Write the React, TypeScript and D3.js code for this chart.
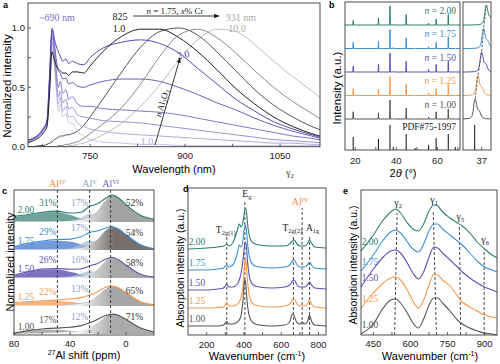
import React from 'react';
import * as d3 from 'd3';

const SANS = '"Liberation Sans", Arial, sans-serif';
const SERIF = '"Liberation Serif", "Times New Roman", serif';

// ---------- a: PL spectra ----------
const aWave = [650, 660, 670, 677, 682, 686, 690, 694, 697, 700, 703, 707, 712, 716, 722, 730, 740, 750, 770, 800, 830, 860, 890, 920, 950, 980, 1010, 1040, 1070, 1100, 1120];
// n Al2O3 = 2.0 ... 1.0
const aAl20 = [0.05, 0.07, 0.11, 0.16, 0.22, 0.6, 1.0, 0.9, 0.84, 0.8, 0.76, 0.72, 0.74, 0.7, 0.72, 0.7, 0.69, 0.75, 0.83, 0.88, 0.9, 0.87, 0.79, 0.66, 0.53, 0.4, 0.3, 0.21, 0.15, 0.1, 0.07];
const aAl18 = [0.05, 0.07, 0.11, 0.16, 0.22, 0.58, 0.98, 0.85, 0.72, 0.64, 0.62, 0.57, 0.58, 0.53, 0.54, 0.51, 0.5, 0.52, 0.55, 0.57, 0.57, 0.55, 0.5, 0.44, 0.37, 0.31, 0.24, 0.18, 0.13, 0.09, 0.06];
const aAl16 = [0.05, 0.07, 0.1, 0.15, 0.21, 0.55, 0.95, 0.8, 0.62, 0.5, 0.55, 0.45, 0.48, 0.4, 0.42, 0.36, 0.34, 0.34, 0.32, 0.31, 0.3, 0.29, 0.27, 0.24, 0.21, 0.18, 0.15, 0.12, 0.09, 0.07, 0.05];
const aAl14 = [0.05, 0.07, 0.1, 0.15, 0.2, 0.52, 0.92, 0.75, 0.55, 0.42, 0.47, 0.37, 0.4, 0.32, 0.33, 0.27, 0.25, 0.24, 0.22, 0.21, 0.2, 0.18, 0.16, 0.14, 0.12, 0.1, 0.08, 0.06, 0.05, 0.04, 0.03];
const aAl12 = [0.04, 0.06, 0.09, 0.14, 0.19, 0.5, 0.88, 0.7, 0.5, 0.36, 0.42, 0.3, 0.34, 0.25, 0.26, 0.2, 0.17, 0.15, 0.13, 0.11, 0.1, 0.09, 0.08, 0.07, 0.06, 0.05, 0.04, 0.03, 0.03, 0.02, 0.02];
const aAl10 = [0.04, 0.06, 0.09, 0.13, 0.18, 0.47, 0.84, 0.66, 0.45, 0.3, 0.36, 0.25, 0.28, 0.2, 0.2, 0.13, 0.09, 0.06, 0.04, 0.03, 0.02, 0.02, 0.01, 0.01, 0.01, 0.01, 0.01, 0.01, 0.01, 0.01, 0.01];
// n = 1.75, x% Cr = 1.0 ... 10.0
const aCr1 = [0.03, 0.05, 0.08, 0.12, 0.17, 0.45, 0.8, 0.72, 0.68, 0.65, 0.64, 0.62, 0.62, 0.6, 0.63, 0.63, 0.62, 0.68, 0.8, 0.93, 0.99, 0.99, 0.92, 0.8, 0.65, 0.49, 0.36, 0.25, 0.17, 0.11, 0.08];
const aCr2 = [0, 0, 0.01, 0.01, 0.02, 0.03, 0.04, 0.06, 0.07, 0.08, 0.09, 0.09, 0.1, 0.1, 0.11, 0.13, 0.18, 0.25, 0.4, 0.63, 0.84, 0.97, 1.0, 0.94, 0.8, 0.64, 0.48, 0.35, 0.25, 0.17, 0.13];
const aCr3 = [0, 0, 0, 0, 0, 0, 0, 0, 0, 0.01, 0.01, 0.01, 0.02, 0.02, 0.03, 0.04, 0.07, 0.11, 0.19, 0.33, 0.53, 0.76, 0.94, 0.99, 0.92, 0.79, 0.64, 0.5, 0.38, 0.28, 0.21];
const aCr4 = [0, 0, 0, 0, 0, 0, 0, 0, 0, 0, 0, 0, 0, 0.01, 0.01, 0.02, 0.03, 0.05, 0.1, 0.2, 0.34, 0.52, 0.73, 0.9, 0.99, 0.97, 0.86, 0.72, 0.59, 0.47, 0.39];
const aAlSeries = [aAl20, aAl18, aAl16, aAl14, aAl12, aAl10];
const aCrSeries = [aCr1, aCr2, aCr3, aCr4];
const aAlColors = ['#5549b0', '#6a60bb', '#8378c7', '#9c92d3', '#b3abde', '#cbc5ea'];
const aCrColors = ['#1e1e1e', '#555555', '#8a8a8a', '#bdbdbd'];
const aXTicks = [675, 750, 825, 900, 975, 1050];
const aXLabels = [750, 900, 1050];
const aYTicks = [0, 0.25, 0.5, 0.75, 1];
const aYLabels = [0, 0.5, 1];

// ---------- shared sample rows (top to bottom) ----------
const rowLabels = ['2.00', '1.75', '1.50', '1.25', '1.00'];
const rowColors = ['#2c7d70', '#3d8fd6', '#5a52b2', '#f59a50', '#555555'];

// ---------- b: XRD ----------
const bPeaks = [19.0, 31.3, 36.9, 38.5, 44.8, 49.1, 55.7, 59.4, 65.3, 68.7];
const bPdfRel = [52, 44, 100, 12, 64, 8, 20, 48, 64, 12];
const bRowRel = [
  [24, 37, 100, 3, 55, 0, 9, 31, 55, 0],
  [32, 38, 100, 5, 55, 0, 9, 33, 60, 0],
  [31, 40, 100, 3, 57, 0, 14, 40, 57, 0],
  [37, 32, 100, 3, 58, 0, 14, 37, 58, 0],
  [38, 33, 100, 2, 57, 0, 10, 38, 52, 0],
];
const bInsetCenter = [37.1, 37.04, 37.0, 36.92, 36.86];
const bPdfInset = 36.85;
const bProfileOff = [-0.35, -0.15, -0.09, -0.05, -0.025, 0, 0.025, 0.05, 0.07, 0.09, 0.12, 0.16, 0.22, 0.4];
const bProfileVal = [0, 0.02, 0.08, 0.3, 0.75, 1, 0.8, 0.5, 0.45, 0.42, 0.25, 0.08, 0.02, 0];
const bXTicks = [20, 30, 40, 50, 60, 70];
const bXLabels = [20, 40, 60];

// ---------- c: 27Al NMR ----------
const cPpm = [80, 70, 60, 50, 40, 32, 26, 20, 15, 10, 5, 0, -10, -20];
const cIV = [
  [0.17, 0.25, 0.33, 0.36, 0.25, 0.12, 0.06, 0.02, 0, 0, 0, 0, 0, 0],
  [0.1, 0.22, 0.3, 0.33, 0.3, 0.2, 0.1, 0.03, 0, 0, 0, 0, 0, 0],
  [0.08, 0.2, 0.3, 0.31, 0.22, 0.12, 0.05, 0.01, 0, 0, 0, 0, 0, 0],
  [0.1, 0.14, 0.17, 0.18, 0.15, 0.1, 0.05, 0.01, 0, 0, 0, 0, 0, 0],
  [0.02, 0.1, 0.15, 0.15, 0.12, 0.08, 0.04, 0.01, 0, 0, 0, 0, 0, 0],
];
const cV = [
  [0, 0, 0, 0, 0.03, 0.15, 0.3, 0.22, 0.08, 0.02, 0, 0, 0, 0],
  [0, 0, 0, 0.02, 0.06, 0.22, 0.34, 0.26, 0.1, 0.02, 0, 0, 0, 0],
  [0, 0, 0, 0.01, 0.06, 0.16, 0.24, 0.2, 0.08, 0.02, 0, 0, 0, 0],
  [0, 0, 0, 0.01, 0.06, 0.12, 0.16, 0.13, 0.06, 0.01, 0, 0, 0, 0],
  [0, 0, 0, 0.01, 0.04, 0.1, 0.14, 0.12, 0.05, 0.01, 0, 0, 0, 0],
];
const cVI = [
  [0.03, 0.02, 0.02, 0.03, 0.04, 0.08, 0.2, 0.42, 0.75, 0.94, 0.85, 0.62, 0.25, 0.1],
  [0.02, 0.02, 0.02, 0.02, 0.03, 0.06, 0.18, 0.4, 0.68, 0.82, 0.74, 0.55, 0.2, 0.05],
  [0.02, 0.02, 0.02, 0.02, 0.03, 0.05, 0.14, 0.32, 0.58, 0.72, 0.64, 0.46, 0.14, 0.03],
  [0.02, 0.02, 0.02, 0.02, 0.04, 0.08, 0.18, 0.38, 0.6, 0.7, 0.64, 0.48, 0.16, 0.04],
  [0.01, 0.02, 0.03, 0.05, 0.08, 0.12, 0.22, 0.4, 0.6, 0.7, 0.66, 0.52, 0.22, 0.07],
];
const cPctIV = ['31%', '29%', '26%', '22%', '17%'];
const cPctV = ['17%', '17%', '16%', '13%', '12%'];
const cPctVI = ['52%', '54%', '58%', '65%', '71%'];
const cSites = [49, 26, 11];
const cXTicks = [80, 60, 40, 20, 0];
const cXLabels = [80, 40, 0];
const cFill = ['#4f8c82', '#4e82cc', '#5b4fae', '#f5a160', '#9b9b9b'];
const cViTone = ['#9d9d9d', '#6f6764', '#a3a3a3', '#a0a0a0', '#a6a6a6'];

// ---------- d: Raman ----------
const dWn = [100, 200, 260, 290, 300, 308, 318, 340, 365, 375, 385, 395, 402, 407, 412, 420, 432, 450, 480, 550, 620, 645, 660, 670, 685, 700, 712, 725, 740, 752, 762, 780, 840];
const dRows = [
  [86, 87, 88, 89, 90, 91, 89, 92, 105, 111, 108, 113, 122, 126, 126, 110, 97, 92, 90, 89, 89, 91, 94, 95, 91, 89, 89, 89, 91, 95, 92, 88, 87],
  [65, 65, 66, 67, 69, 70, 68, 70, 82, 90, 88, 95, 106, 110, 107, 90, 76, 70, 68, 67, 68, 70, 74, 75, 70, 68, 68, 68, 70, 73, 70, 67, 66],
  [45, 45, 46, 47, 49, 51, 48, 48, 51, 55, 62, 75, 88, 93, 90, 72, 56, 50, 48, 47, 48, 50, 54, 55, 50, 48, 48, 48, 50, 53, 50, 47, 46],
  [27, 27, 27.5, 28, 30, 32, 29, 29, 31, 33, 38, 50, 68, 76, 72, 52, 37, 31, 29, 28, 29, 31, 35, 36, 31, 29, 29, 29, 31, 35, 31, 28, 27],
  [9, 9, 9, 10, 12, 13.5, 11, 11, 13, 15, 20, 35, 53, 55, 45, 28, 17, 12, 10, 9, 10, 13, 21, 19, 12, 11, 13, 11, 13, 20, 14, 10, 9],
];
const dModes = [308, 405, 665, 712, 752];
const dModeTop = [99, 135, 99, 127, 99];
const dXTicks = [200, 300, 400, 500, 600, 700, 800];
const dXLabels = [200, 400, 600, 800];

// ---------- e: IR ----------
const eWn = [400, 450, 490, 520, 540, 560, 585, 610, 632, 655, 675, 695, 710, 730, 760, 790, 810, 840, 870, 900, 930, 950];
const eRows = [
  [84, 100, 115, 123, 126, 122, 113, 106, 104, 112, 124, 130, 129, 123, 117, 112, 109, 102, 93, 86, 80, 77],
  [64, 80, 95, 103, 105, 102, 94, 86, 83, 92, 104, 111, 111, 106, 100, 94, 90, 82, 74, 68, 65, 63],
  [48, 66, 78, 84, 85, 82, 73, 62, 56, 64, 78, 88, 87, 82, 75, 68, 63, 57, 52, 48, 45, 43],
  [27, 42, 52, 57, 58, 55, 46, 34, 27, 36, 50, 61, 60, 55, 49, 39, 33, 28, 24, 20, 18, 17],
  [1, 11, 27, 35, 36, 32, 23, 12, 7, 17, 30, 37, 37, 32, 24, 15, 11, 7, 4, 2, 1, 0],
];
const eBands = ['2', '1', '5', '6'];
const eBandBottom = [536, 705, 803, 898];
const eBandTop = [546, 692, 798, 898];
const eBandTopVal = [122, 125, 108, 85];
const eXTicks = [450, 525, 600, 675, 750, 825, 900];
const eXLabels = [450, 600, 750, 900];

const AXIS = '#3a3a3a';

function BottomTicks({ scale, ticks, labels, y, labelY }: any) {
  return (
    <g>
      {ticks.map((t: number) => (
        <line key={t} x1={scale(t)} x2={scale(t)} y1={y} y2={y - 3} stroke={AXIS} strokeWidth={0.8} />
      ))}
      {labels.map((t: number) => (
        <text key={'l' + t} x={scale(t)} y={labelY} textAnchor="middle" fontSize={9.5} fill="#222">{t}</text>
      ))}
    </g>
  );
}

function PanelA() {
  const left = 28, right = 320, top = 3, bottom = 146.7;
  const x = d3.scaleLinear().domain([652, 1113]).range([left, right]);
  const y = d3.scaleLinear().domain([0, 1]).range([bottom, 28]);
  const line = d3.line<number>().x((_, i) => x(aWave[i])).y(d => y(d)).curve(d3.curveMonotoneX);
  return (
    <g>
      <defs>
        <clipPath id="clipA"><rect x={left} y={top} width={right - left} height={bottom - top} /></clipPath>
        <marker id="arrowA" viewBox="0 0 10 10" refX="9" refY="5" markerWidth="6" markerHeight="6" orient="auto">
          <path d="M0,1 L10,5 L0,9 z" fill="#222" />
        </marker>
      </defs>
      <g clipPath="url(#clipA)">
        {[3, 2, 1].map(i => (
          <path key={'cr' + i} d={line(aCrSeries[i]) || ''} fill="none" stroke={aCrColors[i]} strokeWidth={1} />
        ))}
        {[5, 4, 3, 2, 1, 0].map(i => (
          <path key={'al' + i} d={line(aAlSeries[i]) || ''} fill="none" stroke={aAlColors[i]} strokeWidth={1} />
        ))}
        <path d={line(aCrSeries[0]) || ''} fill="none" stroke={aCrColors[0]} strokeWidth={1} />
      </g>
      <rect x={left} y={top} width={right - left} height={bottom - top} fill="none" stroke={AXIS} strokeWidth={0.9} />
      <BottomTicks scale={x} ticks={aXTicks} labels={aXLabels} y={bottom} labelY={159} />
      {aYTicks.map(t => (
        <line key={t} x1={left} x2={left + 3} y1={y(t)} y2={y(t)} stroke={AXIS} strokeWidth={0.8} />
      ))}
      {aYLabels.map(t => (
        <text key={t} x={25} y={y(t) + 3.3} textAnchor="end" fontSize={9.5} fill="#222">{t.toFixed(1)}</text>
      ))}
      <text x={174} y={172.5} textAnchor="middle" fontSize={11}>Wavelength (nm)</text>
      <text transform="translate(10.5,86) rotate(-90)" textAnchor="middle" fontSize={11.5}>Normalized intensity</text>
      <text x={3} y={8} fontSize={9} fontWeight="bold">a</text>

      <g fontFamily={SERIF} fontSize={10}>
        <text x={57} y={20.5} textAnchor="middle" fill="#7a70c6">~690 nm</text>
        <text x={120} y={20} textAnchor="middle" fill="#222">825</text>
        <text x={119} y={31.5} textAnchor="middle" fill="#222">1.0</text>
        <line x1={133} x2={219} y1={16} y2={16} stroke="#222" strokeWidth={0.9} markerEnd="url(#arrowA)" />
        <text x={175} y={13.5} textAnchor="middle" fontSize={9} fill="#222">
          <tspan fontStyle="italic">n</tspan> = 1.75, <tspan fontStyle="italic">x</tspan>% Cr
        </text>
        <text x={241} y={20.5} textAnchor="middle" fill="#aaaaaa">931 nm</text>
        <text x={237} y={31.5} textAnchor="middle" fill="#aaaaaa">10.0</text>
        <text transform="translate(184,58) rotate(-14)" textAnchor="middle" fill="#5549b0">2.0</text>
        <text x={147} y={145} textAnchor="middle" fill="#b3abde">1.0</text>
        <line x1={155} y1={145} x2={180} y2={58} stroke="#222" strokeWidth={0.9} markerEnd="url(#arrowA)" />
        <text transform="translate(165,104) rotate(-74)" textAnchor="middle" fontSize={9} fill="#222">
          <tspan fontStyle="italic">n</tspan> Al<tspan fontSize={6.5} dy={2}>2</tspan><tspan dy={-2}>O</tspan><tspan fontSize={6.5} dy={2}>3</tspan>
        </text>
        <text x={290} y={176} textAnchor="middle" fontSize={9.5} fill="#333">γ<tspan fontSize={6.5} dy={2}>2</tspan></text>
      </g>
    </g>
  );
}

function PanelB() {
  const left = 345, right = 460, top = 2, bottom = 150;
  const ileft = 463, iright = 491;
  const x = d3.scaleLinear().domain([15, 71]).range([left, right]);
  const xi = d3.scaleLinear().domain([36.6, 37.2]).range([ileft, iright]);
  const hs = d3.scaleLinear().domain([0, 100]).range([0, 19]);
  const hp = d3.scaleLinear().domain([0, 100]).range([0, 25]);
  const hi = d3.scaleLinear().domain([0, 1]).range([0, 20]);
  return (
    <g>
      <defs>
        <clipPath id="clipB"><rect x={left} y={top} width={right - left} height={bottom - top} /></clipPath>
        <clipPath id="clipBi"><rect x={ileft} y={top} width={iright - ileft} height={bottom - top} /></clipPath>
      </defs>
      <g clipPath="url(#clipB)">
        {rowLabels.map((lab, r) => {
          const base = 25 + r * 23.5;
          const pts: [number, number][] = [[15, 0]];
          bPeaks.forEach((p, k) => {
            pts.push([p - 0.18, 0], [p, bRowRel[r][k]], [p + 0.18, 0]);
          });
          pts.push([71, 0]);
          const ln = d3.line<[number, number]>().x(d => x(d[0])).y(d => base - hs(d[1]));
          return <path key={lab} d={ln(pts) || ''} fill="none" stroke={rowColors[r]} strokeWidth={1} />;
        })}
        {bPeaks.map((p, k) => (
          <line key={p} x1={x(p)} x2={x(p)} y1={bottom} y2={bottom - hp(bPdfRel[k])} stroke="#222" strokeWidth={1.1} />
        ))}
      </g>
      <g clipPath="url(#clipBi)">
        {rowLabels.map((lab, r) => {
          const base = 25 + r * 23.5;
          const pts: [number, number][] = [[36.4, 0]];
          bProfileOff.forEach((o, k) => pts.push([bInsetCenter[r] + o, bProfileVal[k]]));
          pts.push([37.8, 0]);
          const ln = d3.line<[number, number]>().x(d => xi(d[0])).y(d => base - hi(d[1])).curve(d3.curveMonotoneX);
          return <path key={lab} d={ln(pts) || ''} fill="none" stroke={rowColors[r]} strokeWidth={1} />;
        })}
        <line x1={xi(bPdfInset)} x2={xi(bPdfInset)} y1={bottom} y2={bottom - hp(100)} stroke="#222" strokeWidth={1.1} />
        <path
          d={d3.line<number>().x(c => xi(c)).y((_, r) => 25 + r * 23.5 - hi(1))(bInsetCenter) || ''}
          fill="none" stroke="#555" strokeWidth={0.9} strokeDasharray="2.5,1.5"
        />
      </g>
      <rect x={left} y={top} width={right - left} height={bottom - top} fill="none" stroke={AXIS} strokeWidth={0.9} />
      <rect x={ileft} y={top} width={iright - ileft} height={bottom - top} fill="none" stroke={AXIS} strokeWidth={0.9} />
      <BottomTicks scale={x} ticks={bXTicks} labels={bXLabels} y={bottom} labelY={164} />
      <BottomTicks scale={xi} ticks={[37]} labels={[37]} y={bottom} labelY={164} />
      <g fontFamily={SERIF} fontSize={9.5}>
        {rowLabels.map((lab, r) => (
          <text key={lab} x={456} y={25 + r * 23.5 - 11.5} textAnchor="end" fill={rowColors[r]}>
            <tspan fontStyle="italic">n</tspan> = {lab}
          </text>
        ))}
        <text x={456} y={130} textAnchor="end" fill="#222">PDF#75-1997</text>
      </g>
      <text transform="translate(341,88) rotate(-90)" textAnchor="middle" fontSize={11.5}>Intensity (a.u.)</text>
      <text x={403} y={177} textAnchor="middle" fontSize={11}>2<tspan fontStyle="italic">θ</tspan> (°)</text>
      <text x={329} y={8} fontSize={9} fontWeight="bold">b</text>
    </g>
  );
}

function PanelC() {
  const left = 14, right = 154, top = 190, bottom = 335, unit = 28;
  const x = d3.scaleLinear().domain([80, -20]).range([left, right]);
  return (
    <g>
      <defs>
        <clipPath id="clipC"><rect x={left} y={top} width={right - left} height={bottom - top} /></clipPath>
        {rowLabels.map((_, i) => (
          <linearGradient key={i} id={'viGrad' + i} gradientUnits="userSpaceOnUse" x1={x(34)} x2={x(-12)} y1={0} y2={0}>
            <stop offset="0" stopColor="#f6f6f6" />
            <stop offset="0.55" stopColor={cViTone[i]} />
            <stop offset="1" stopColor={cViTone[i]} />
          </linearGradient>
        ))}
      </defs>
      <g clipPath="url(#clipC)">
        {rowLabels.map((lab, i) => {
          const base = 222 + i * 28;
          const area = d3.area<number>().x((_, k) => x(cPpm[k])).y0(base).y1(d => base - d * unit).curve(d3.curveMonotoneX);
          const line = d3.line<number>().x((_, k) => x(cPpm[k])).y(d => base - d * unit).curve(d3.curveMonotoneX);
          const total = cIV[i].map((v, k) => v + cV[i][k] + cVI[i][k]);
          return (
            <g key={lab}>
              <path d={area(cIV[i]) || ''} fill={cFill[i]} fillOpacity={0.8} />
              <path d={area(cV[i]) || ''} fill="#a9bfd8" fillOpacity={0.75} />
              <path d={area(cVI[i]) || ''} fill={'url(#viGrad' + i + ')'} fillOpacity={0.95} />
              <path d={line(total) || ''} fill="none" stroke={rowColors[i]} strokeWidth={1.1} />
            </g>
          );
        })}
      </g>
      {cSites.map(s => (
        <line key={s} x1={x(s)} x2={x(s)} y1={top} y2={bottom} stroke="#333" strokeWidth={0.9} strokeDasharray="3,2" />
      ))}
      <g fontFamily={SERIF} fontSize={9.5}>
        {rowLabels.map((lab, i) => {
          const base = 222 + i * 28;
          const total = cIV[i].map((v, k) => v + cV[i][k] + cVI[i][k]);
          return (
            <g key={lab}>
              <text x={26} y={base - total[0] * unit - 3} textAnchor="middle" fill={rowColors[i]}>{lab}</text>
              <text x={x(56)} y={base - total[3] * unit - 5} textAnchor="middle" fill={rowColors[i]}>{cPctIV[i]}</text>
              <text x={x(33)} y={base - total[5] * unit - 6} textAnchor="middle" fill="#8aa3c4">{cPctV[i]}</text>
              <text x={x(-6)} y={base - total[11] * unit + 1} textAnchor="middle" fill="#333">{cPctVI[i]}</text>
            </g>
          );
        })}
        <text x={x(cSites[0])} y={187} textAnchor="middle" fill="#f08c3c" fontSize={10}>Al<tspan fontSize={6.5} dy={-3.5}>IV</tspan></text>
        <text x={x(cSites[1])} y={187} textAnchor="middle" fill="#8aa3c4" fontSize={10}>Al<tspan fontSize={6.5} dy={-3.5}>V</tspan></text>
        <text x={x(cSites[2])} y={187} textAnchor="middle" fill="#6e61c0" fontSize={10}>Al<tspan fontSize={6.5} dy={-3.5}>VI</tspan></text>
      </g>
      <rect x={left} y={top} width={right - left} height={bottom - top} fill="none" stroke={AXIS} strokeWidth={0.9} />
      <BottomTicks scale={x} ticks={cXTicks} labels={cXLabels} y={bottom} labelY={346.5} />
      <text x={84} y={359} textAnchor="middle" fontSize={11}>
        <tspan fontSize={7} dy={-4}>27</tspan><tspan dy={4}>Al shift (ppm)</tspan>
      </text>
      <text transform="translate(13.5,262) rotate(-90)" textAnchor="middle" fontSize={11}>Normalized intensity</text>
      <text x={2} y={194} fontSize={9} fontWeight="bold">c</text>
    </g>
  );
}

function PanelD() {
  const left = 188, right = 326, top = 188, bottom = 335;
  const x = d3.scaleLinear().domain([100, 840]).range([left, right]);
  const y = d3.scaleLinear().domain([0, 150]).range([bottom, bottom - 150]);
  const line = d3.line<number>().x((_, k) => x(dWn[k])).y(d => y(d)).curve(d3.curveMonotoneX);
  const sub = (main: string, s: string) => (<>{main}<tspan fontSize={6.5} dy={2}>{s}</tspan></>);
  return (
    <g>
      {dModes.map((m, k) => (
        <line key={m} x1={x(m)} x2={x(m)} y1={bottom} y2={y(dModeTop[k])} stroke="#333" strokeWidth={0.9} strokeDasharray="3,2" />
      ))}
      {dRows.map((vals, i) => (
        <path key={i} d={line(vals) || ''} fill="none" stroke={rowColors[i]} strokeWidth={1.1} />
      ))}
      <rect x={left} y={top} width={right - left} height={bottom - top} fill="none" stroke={AXIS} strokeWidth={0.9} />
      <BottomTicks scale={x} ticks={dXTicks} labels={dXLabels} y={bottom} labelY={348} />
      <g fontFamily={SERIF} fontSize={9.5}>
        {rowLabels.map((lab, i) => (
          <text key={lab} x={197} y={y(dRows[i][0]) - 4} textAnchor="middle" fill={rowColors[i]}>{lab}</text>
        ))}
        <text x={x(308) - 1} y={233} textAnchor="middle" fill="#222">{sub('T', '2g(1)')}</text>
        <text x={x(405) + 2} y={197} textAnchor="middle" fill="#222">{sub('E', 'g')}</text>
        <text x={x(665) - 1} y={231} textAnchor="middle" fill="#222">{sub('T', '2g(2)')}</text>
        <text x={x(752) + 3} y={231} textAnchor="middle" fill="#222">{sub('A', '1g')}</text>
        <text x={x(712) - 2} y={205} textAnchor="middle" fill="#f08c3c" fontSize={10}>Al<tspan fontSize={6.5} dy={-3.5}>IV</tspan></text>
      </g>
      <text x={257} y={360} textAnchor="middle" fontSize={11}>
        Wavenumber (cm<tspan fontSize={7} dy={-4}>-1</tspan><tspan dy={4}>)</tspan>
      </text>
      <text transform="translate(184,268) rotate(-90)" textAnchor="middle" fontSize={10.5}>Absorption intensity (a.u.)</text>
      <text x={183} y={192} fontSize={9} fontWeight="bold">d</text>
    </g>
  );
}

function PanelE() {
  const left = 361, right = 497, top = 190, bottom = 335;
  const x = d3.scaleLinear().domain([400, 950]).range([left, right]);
  const y = d3.scaleLinear().domain([0, 150]).range([bottom, bottom - 150]);
  const line = d3.line<number>().x((_, k) => x(eWn[k])).y(d => y(d)).curve(d3.curveMonotoneX);
  return (
    <g>
      {eBands.map((b, k) => (
        <line key={b} x1={x(eBandBottom[k])} x2={x(eBandTop[k])} y1={bottom} y2={y(eBandTopVal[k])} stroke="#333" strokeWidth={0.9} strokeDasharray="3,2" />
      ))}
      {eRows.map((vals, i) => (
        <path key={i} d={line(vals) || ''} fill="none" stroke={rowColors[i]} strokeWidth={1.1} />
      ))}
      <rect x={left} y={top} width={right - left} height={bottom - top} fill="none" stroke={AXIS} strokeWidth={0.9} />
      <BottomTicks scale={x} ticks={eXTicks} labels={eXLabels} y={bottom} labelY={347} />
      <g fontFamily={SERIF} fontSize={9.5}>
        {rowLabels.map((lab, i) => (
          <text key={lab} x={370} y={y(eRows[i][0]) - 6} textAnchor="middle" fill={rowColors[i]}>{lab}</text>
        ))}
        {eBands.map((b, k) => (
          <text key={b} x={x(eBandTop[k]) + 1} y={y(eBandTopVal[k]) - 7} textAnchor="middle" fill="#222" fontSize={10}>
            γ<tspan fontSize={6.5} dy={2}>{b}</tspan>
          </text>
        ))}
      </g>
      <text x={430} y={360} textAnchor="middle" fontSize={11}>
        Wavenumber (cm<tspan fontSize={7} dy={-4}>-1</tspan><tspan dy={4}>)</tspan>
      </text>
      <text transform="translate(357,265) rotate(-90)" textAnchor="middle" fontSize={10.5}>Absorption intensity (a.u.)</text>
      <text x={343} y={194} fontSize={9} fontWeight="bold">e</text>
    </g>
  );
}

export default function App() {
  return (
    <svg width={500} height={364} viewBox="0 0 500 364" fontFamily={SANS}
      style={{ position: 'absolute', left: 0, top: 0, background: '#fff' }}>
      <rect width={500} height={364} fill="#fff" />
      <PanelA />
      <PanelB />
      <PanelC />
      <PanelD />
      <PanelE />
    </svg>
  );
}
